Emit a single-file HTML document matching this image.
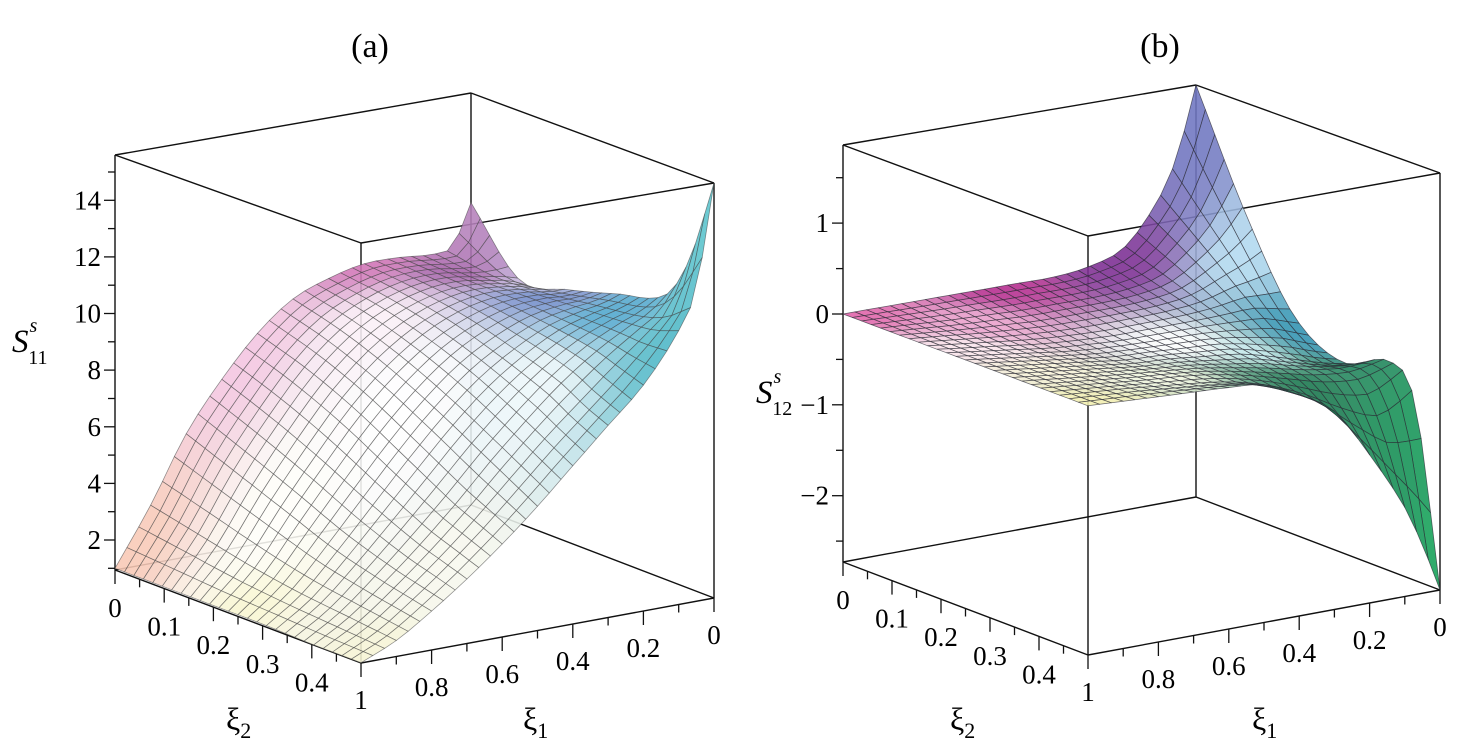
<!DOCTYPE html>
<html><head><meta charset="utf-8"><style>
html,body{margin:0;padding:0;background:#fff;}
svg{display:block;font-family:"Liberation Serif",serif;}
</style></head><body>
<svg id="fig" width="1465" height="749" viewBox="0 0 1465 749">
<g id="pa"></g>
<g id="pb"></g>
<text x="370" y="57" font-size="34" text-anchor="middle">(a)</text>
<text x="1160" y="57" font-size="34" text-anchor="middle">(b)</text>
<text x="12" y="352" font-size="33" font-style="italic">S<tspan font-size="20" dx="1" dy="-20">s</tspan><tspan font-size="20" dx="-9" dy="32" font-style="normal">11</tspan></text>
<text x="756" y="403" font-size="33" font-style="italic">S<tspan font-size="20" dx="1" dy="-20">s</tspan><tspan font-size="20" dx="-9" dy="32" font-style="normal">12</tspan></text>
<text x="226" y="730" font-size="32">ξ<tspan font-size="22" dy="8">2</tspan></text>
<text x="523" y="730" font-size="32">ξ<tspan font-size="22" dy="8">1</tspan></text>
<text x="950" y="730" font-size="32">ξ<tspan font-size="22" dy="8">2</tspan></text>
<text x="1252" y="730" font-size="32">ξ<tspan font-size="22" dy="8">1</tspan></text>
</svg>
<script>
// ---- data: grid knots ----
const bKnots = [0,0.1,0.2,0.3,0.4,0.5,0.6,0.7,0.8,0.9,0.95,1]; // b = 1 - xi1
const aKnots = [0,0.2,0.4,0.6,0.8,0.9,1]; // a = xi2 / 0.5
// Panel (a) S11 values, rows = aKnots, cols = bKnots
const s11_a0 = [1.0,3.0,5.3,7.0,8.4,9.4,9.9,10.2,10.2,10.1,10.3,11.7];
const s11_a1 = [1.0,2.6,4.6,6.3,7.8,8.9,9.6,10.0,10.1,9.9,9.8,9.6];
const s11_a2 = [1.0,2.2,3.9,5.5,7.0,8.2,9.1,9.7,10.0,10.0,9.9,9.9];
const s11_a3 = [1.0,1.9,3.2,4.6,6.0,7.3,8.4,9.2,9.8,10.1,10.2,10.4];
const s11_a4 = [0.95,1.7,2.7,3.8,5.0,6.3,7.5,8.6,9.5,10.2,10.5,11.0];
const s11_a5 = [0.95,1.6,2.5,3.5,4.6,5.8,7.0,8.1,9.2,10.3,11.0,12.6];
const s11_a6 = [0.95,1.5,2.3,3.2,4.2,5.3,6.5,7.7,8.9,10.6,12.0,15.6];
// Panel (b) S12 values
const s12_a0 = [0,0,0,0,0,0,0,0.05,0.2,0.7,1.15,1.86];
const s12_a1 = [0,-0.03,-0.06,-0.08,-0.1,-0.1,-0.1,-0.08,0.0,0.25,0.42,0.65];
const s12_a2 = [0,-0.05,-0.1,-0.15,-0.18,-0.2,-0.2,-0.2,-0.2,-0.2,-0.25,-0.3];
const s12_a3 = [0,-0.05,-0.1,-0.15,-0.2,-0.22,-0.26,-0.3,-0.4,-0.52,-0.58,-0.62];
const s12_a4 = [0,-0.04,-0.08,-0.12,-0.15,-0.2,-0.28,-0.38,-0.48,-0.52,-0.48,-0.42];
const s12_a5 = [0,-0.03,-0.06,-0.1,-0.14,-0.2,-0.32,-0.5,-0.75,-0.95,-0.9,-0.8];
const s12_a6 = [0,-0.02,-0.04,-0.06,-0.08,-0.12,-0.3,-0.55,-1.1,-1.75,-2.2,-2.73];
// tick labels
const zTicksA = [2,4,6,8,10,12,14];
const zTicksB = [-2,-1,0,1];
const xi2Ticks = [0,0.1,0.2,0.3,0.4];
const xi2Labels = ["0","0.1","0.2","0.3","0.4"];
const xi1Ticks = [1,0.8,0.6,0.4,0.2,0];
const xi1Labels = ["1","0.8","0.6","0.4","0.2","0"];

const NS='http://www.w3.org/2000/svg';
function mk(tag,attrs,parent){const e=document.createElementNS(NS,tag);for(const k in attrs)e.setAttribute(k,attrs[k]);parent.appendChild(e);return e;}
function herm(xs,ys,x){
  const n=xs.length;let i=0;while(i<n-2&&x>xs[i+1])i++;
  const tan=k=>{if(k===0)return (ys[1]-ys[0])/(xs[1]-xs[0]);if(k===n-1)return (ys[n-1]-ys[n-2])/(xs[n-1]-xs[n-2]);return (ys[k+1]-ys[k-1])/(xs[k+1]-xs[k-1]);};
  const h=xs[i+1]-xs[i],t=(x-xs[i])/h;
  const h00=2*t*t*t-3*t*t+1,h10=t*t*t-2*t*t+t,h01=-2*t*t*t+3*t*t,h11=t*t*t-t*t;
  return h00*ys[i]+h10*h*tan(i)+h01*ys[i+1]+h11*h*tan(i+1);
}
function hex(c){return [parseInt(c.slice(1,3),16),parseInt(c.slice(3,5),16),parseInt(c.slice(5,7),16)];}

function panel(g,cfg){
  const C=cfg.corners;
  const proj=(a,b,z)=>{
    const w=[(1-a)*(1-b),a*(1-b),a*b,(1-a)*b];
    let x=0,y=0,H=0;[C.L,C.F,C.R,C.B].forEach((c,k)=>{x+=w[k]*c[0];y+=w[k]*c[1];H+=w[k]*c[2];});
    return [x,y-(z-cfg.zmin)/(cfg.zmax-cfg.zmin)*H];
  };
  const zTop=cfg.zmax,zBot=cfg.zmin;
  const line=(p,q,name,sw)=>{const l=mk('line',{x1:p[0].toFixed(1),y1:p[1].toFixed(1),x2:q[0].toFixed(1),y2:q[1].toFixed(1),stroke:'#111','stroke-width':sw||1.4},g);
    
    return l;};
  const box=[[[0,0,zBot],[0,0,zTop],'z-axis-line'],[[1,0,zBot],[1,0,zTop],'front-edge'],[[1,1,zBot],[1,1,zTop],'right-edge'],[[0,1,zBot],[0,1,zTop],'back-edge'],
   [[0,0,zTop],[1,0,zTop],'top-edge'],[[1,0,zTop],[1,1,zTop],'top-edge'],[[1,1,zTop],[0,1,zTop],'top-edge'],[[0,1,zTop],[0,0,zTop],'top-edge'],
   [[0,0,zBot],[1,0,zBot],'xi2-axis-line'],[[1,0,zBot],[1,1,zBot],'xi1-axis-line'],[[1,1,zBot],[0,1,zBot],'bottom-edge'],[[0,1,zBot],[0,0,zBot],'bottom-edge']];
  box.forEach(e=>line(proj(...e[0]),proj(...e[1]),e[2]));
  const rows=cfg.rows, NA=26, NB=30;
  const bs=[],as=[];for(let j=0;j<=NB;j++)bs.push(j/NB);for(let i=0;i<=NA;i++)as.push(i/NA);
  const rowI=rows.map(r=>bs.map(b=>herm(bKnots,r,b)));
  const Z=as.map(a=>bs.map((b,j)=>herm(aKnots,rowI.map(r=>r[j]),a)));
  const anchors=cfg.anchors.map(an=>({a:an[0],b:an[1],c:hex(an[2]),w:an[3]||1}));
  const color=(a,b)=>{let s=[0,0,0],ws=0;anchors.forEach(an=>{const d=(a-an.a)**2+(b-an.b)**2;const w=an.w/Math.pow(d+0.004,1.6);ws+=w;s[0]+=w*an.c[0];s[1]+=w*an.c[1];s[2]+=w*an.c[2];});
    return 'rgb('+s.map(v=>Math.round(v/ws)).join(',')+')';};
  const quads=[];
  for(let i=0;i<NA;i++)for(let j=0;j<NB;j++){
    const a0=as[i],a1=as[i+1],b0=bs[j],b1=bs[j+1];
    quads.push({near:(a0+a1)/2+(1-(b0+b1)/2),pts:[proj(a0,b0,Z[i][j]),proj(a1,b0,Z[i+1][j]),proj(a1,b1,Z[i+1][j+1]),proj(a0,b1,Z[i][j+1])],col:color((a0+a1)/2,(b0+b1)/2)});
  }
  quads.sort((p,q)=>p.near-q.near);
  const sg=mk('g',{},g);
  
  
  quads.forEach(q=>{const p=mk('polygon',{points:q.pts.map(p=>p[0].toFixed(1)+','+p[1].toFixed(1)).join(' '),fill:q.col,'fill-opacity':0.88,stroke:cfg.mesh,'stroke-width':0.75,'stroke-linejoin':'round'},sg);
    
    });
  const zt=cfg.zTicks;
  for(let v=Math.ceil(cfg.zmin/cfg.minor)*cfg.minor;v<=cfg.zmax+1e-9;v+=cfg.minor){
    const p=proj(0,0,v);const major=zt.some(t=>Math.abs(t-v)<1e-6);
    line([p[0]-(major?11:7),p[1]],p,'z-tick',1.3);
  }
  zt.forEach(v=>{const p=proj(0,0,v);const t=mk('text',{x:p[0]-14,y:p[1]+9,'font-size':27,'text-anchor':'end'},g);
    
    
    t.textContent=(v<0?'\u2212'+(-v):String(v));});
  for(let k=0;k<=9;k++){const v=k*0.05;const p=proj(v/0.5,0,zBot);const major=k%2===0;line(p,[p[0],p[1]+(major?14:8)],'xi2-tick',1.3);}
  xi2Ticks.forEach((v,k)=>{const p=proj(v/0.5,0,zBot);const t=mk('text',{x:p[0],y:p[1]+47,'font-size':27,'text-anchor':'middle'},g);
    
    
    t.textContent=xi2Labels[k];});
  for(let k=0;k<=10;k++){const v=k*0.1;const p=proj(1,1-v,zBot);const major=k%2===0;line(p,[p[0],p[1]+(major?14:8)],'xi1-tick',1.3);}
  xi1Ticks.forEach((v,k)=>{const p=proj(1,1-v,zBot);const t=mk('text',{x:p[0],y:p[1]+46,'font-size':27,'text-anchor':'middle'},g);
    
    
    t.textContent=xi1Labels[k];});
}

panel(document.getElementById('pa'),{
  corners:{L:[115,570,415],F:[361,663,420],R:[714,598,415],B:[471,505,412]},
  zmin:0.94,zmax:15.6,minor:1,zTicks:zTicksA,mesh:'rgba(70,70,70,0.6)',
  rows:[s11_a0,s11_a1,s11_a2,s11_a3,s11_a4,s11_a5,s11_a6],
  anchors:[[0,0,'#f8c8b4',1.2],[0.5,0,'#f8f6d0'],[1,0,'#f6f4d4'],[0.9,0.3,'#f8f8ee'],[0,0.35,'#f4c4e0'],[0,0.7,'#d070b4',1.1],[0.15,0.85,'#a05aa4'],
    [0.3,1,'#d4d0ec'],[0.45,0.9,'#6a86c8'],[0.7,0.92,'#4aa4cc'],[1,0.9,'#48b4c4'],[1,1,'#5cc6ce'],[0.5,0.45,'#ffffff',3],[0.75,0.65,'#eef8fa',1.5],[0.25,0.55,'#fcf2f8',1.2],[0.4,0.2,'#fffffa',1.5]]
});
panel(document.getElementById('pb'),{
  corners:{L:[843,562,417],F:[1088,655,419],R:[1440,590,417],B:[1196,497,412]},
  zmin:-2.73,zmax:1.86,minor:0.5,zTicks:zTicksB,mesh:'rgba(45,45,55,0.7)',
  rows:[s12_a0,s12_a1,s12_a2,s12_a3,s12_a4,s12_a5,s12_a6],
  anchors:[[0,0,'#e060a8',1.3],[0,0.45,'#b4288c',1.3],[0.2,0.25,'#eaa0cc'],[0.05,0.75,'#7a2890',1.2],[0.05,1,'#6c74c0'],[0.25,0.95,'#b8e0f4'],[0.45,0.97,'#2a90b0'],
    [0.5,0.6,'#ffffff',1.3],[1,0,'#f4f0b0'],[0.65,0.15,'#f8f4d8'],[0.4,0.1,'#fbe8ee'],[0.8,0.35,'#f2f8e0'],
    [0.85,0.75,'#137248',1.2],[1,0.65,'#1a7a50'],[0.95,0.9,'#108a50'],[1,1,'#12a458'],[0.7,0.95,'#157a50'],[0.6,0.75,'#c8ecf0',0.8]]
});
</script>
</body></html>
